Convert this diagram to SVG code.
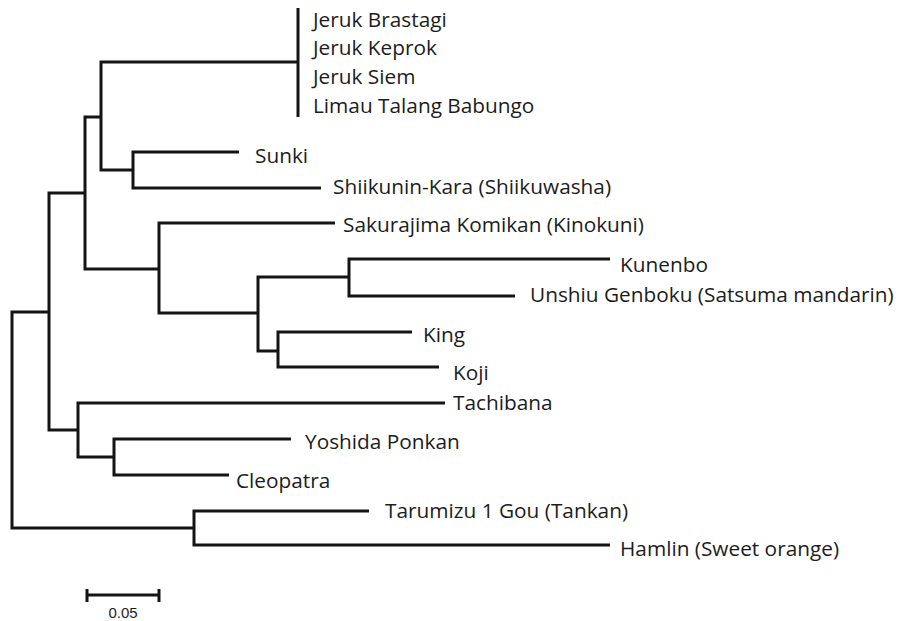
<svg xmlns="http://www.w3.org/2000/svg" width="901" height="621" viewBox="0 0 901 621">
  <style>
    .branch { fill: none; stroke: #141414; stroke-width: 3; stroke-linejoin: miter; stroke-linecap: butt; }
    .leaf { font-family: "Open Sans", "DejaVu Sans", sans-serif; font-size: 20.8px; fill: #1c1c1c; }
    .scale-label { font-family: "Liberation Sans", Arial, sans-serif; font-size: 15px; fill: #1c1c1c; text-anchor: middle; }
  </style>
  <rect width="901" height="621" fill="#ffffff"/>

  <!-- tree branches (rectangular cladogram) -->
  <g id="connectors">
    <path class="branch" d="M49,312 H12 V528 H194"/>
    <path class="branch" d="M85,193 H49 V430 H78"/>
    <path class="branch" d="M101,117 H85 V269 H159"/>
    <path class="branch" d="M298,62 H101 V170 H133"/>
    <path class="branch" d="M298,8 V117"/>
    <path class="branch" d="M239,152 H133 V188 H321"/>
    <path class="branch" d="M335,223 H159 V313 H258"/>
    <path class="branch" d="M349,277 H258 V351 H278"/>
    <path class="branch" d="M610,259 H349 V296 H515"/>
    <path class="branch" d="M412,332 H278 V367 H439"/>
    <path class="branch" d="M445,403 H78 V457 H114"/>
    <path class="branch" d="M291,439 H114 V475 H229"/>
    <path class="branch" d="M369,511 H194 V545 H610"/>
  </g>

  <!-- leaf labels -->
  <g id="jeruk-brastagi"><text class="leaf" x="313" y="27">Jeruk Brastagi</text></g>
  <g id="jeruk-keprok"><text class="leaf" x="313" y="55">Jeruk Keprok</text></g>
  <g id="jeruk-siem"><text class="leaf" x="313" y="84">Jeruk Siem</text></g>
  <g id="limau-talang-babungo"><text class="leaf" x="313" y="113">Limau Talang Babungo</text></g>
  <g id="sunki"><text class="leaf" x="255" y="163">Sunki</text></g>
  <g id="shiikunin-kara"><text class="leaf" x="333" y="194">Shiikunin-Kara (Shiikuwasha)</text></g>
  <g id="sakurajima-komikan"><text class="leaf" x="343" y="232">Sakurajima Komikan (Kinokuni)</text></g>
  <g id="kunenbo"><text class="leaf" x="620" y="272">Kunenbo</text></g>
  <g id="unshiu-genboku"><text class="leaf" x="530" y="302">Unshiu Genboku (Satsuma mandarin)</text></g>
  <g id="king"><text class="leaf" x="423" y="342">King</text></g>
  <g id="koji"><text class="leaf" x="453" y="380">Koji</text></g>
  <g id="tachibana"><text class="leaf" x="453" y="410">Tachibana</text></g>
  <g id="yoshida-ponkan"><text class="leaf" x="305" y="449">Yoshida Ponkan</text></g>
  <g id="cleopatra"><text class="leaf" x="236" y="488">Cleopatra</text></g>
  <g id="tarumizu-1-gou"><text class="leaf" x="385" y="518">Tarumizu 1 Gou (Tankan)</text></g>
  <g id="hamlin"><text class="leaf" x="620" y="556">Hamlin (Sweet orange)</text></g>

  <!-- scale bar -->
  <g id="scale-bar">
    <path class="branch" d="M87,595 H159 M87,589 V602 M159,589 V602"/>
    <text class="scale-label" x="123" y="618">0.05</text>
  </g>
</svg>
